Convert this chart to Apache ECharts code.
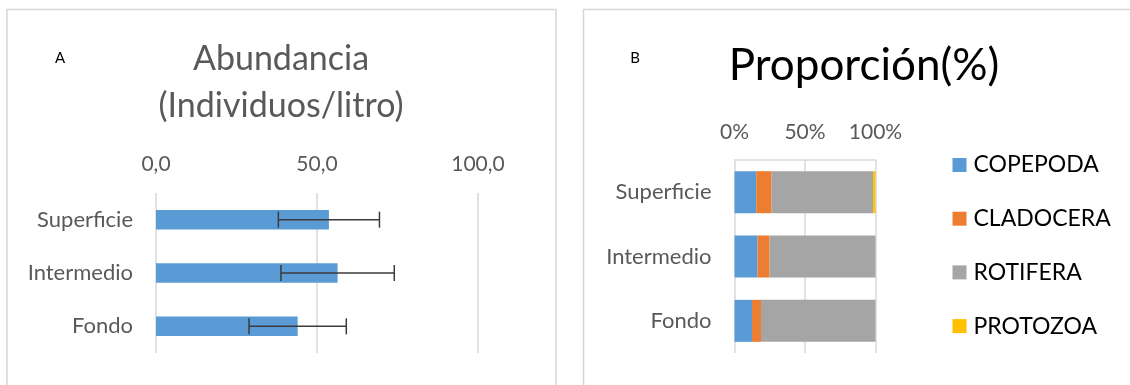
<!DOCTYPE html>
<html>
<head>
<meta charset="utf-8">
<script src="https://cdn.jsdelivr.net/npm/echarts@6/dist/echarts.min.js"></script>
<style>
  html, body { margin: 0; padding: 0; background: #fff; }
  #chart { width: 1130px; height: 385px; }
</style>
</head>
<body>
<div id="chart"></div>
<script>
// Depth strata sampled
const depths = ['Superficie', 'Intermedio', 'Fondo'];

// Panel A: mean abundance (individuals per litre) and its error
const abundance = [53.7, 56.4, 44.0];
const abundanceError = [15.7, 17.6, 15.1];
const abundanceTicks = [0, 50, 100];

// Panel B: share of each zooplankton group (%)
const groupNames = ['COPEPODA', 'CLADOCERA', 'ROTIFERA', 'PROTOZOA'];
const copepoda = [15.4, 16.4, 12.4];
const cladocera = [10.9, 8.5, 6.4];
const rotifera = [72.0, 75.1, 81.2];
const protozoa = [1.7, 0, 0];
const percentTicks = [0, 50, 100];

const groupValues = [copepoda, cladocera, rotifera, protozoa];
const groupColors = ['#5B9BD5', '#ED7D31', '#A5A5A5', '#FFC000'];

const FONT = 'Lato, "Open Sans", sans-serif';
const GRAY = '#595959';
const GRID_LINE = '#D9D9D9';

const chart = echarts.init(document.getElementById('chart'), null, { renderer: 'canvas' });

const errorData = depths.map((d, i) => [i, abundance[i] - abundanceError[i], abundance[i] + abundanceError[i]]);

const stackSeries = groupNames.map((name, k) => ({
  name: name,
  type: 'bar',
  stack: 'share',
  xAxisIndex: 1,
  yAxisIndex: 1,
  barWidth: 42,
  itemStyle: { color: groupColors[k] },
  data: groupValues[k]
}));

const option = {
  animation: false,
  textStyle: { fontFamily: FONT },
  graphic: [
    { type: 'rect', shape: { x: 7, y: 9.5, width: 549, height: 420 }, style: { fill: 'none', stroke: '#D6D6D6', lineWidth: 1.5 } },
    { type: 'rect', shape: { x: 583.5, y: 9.5, width: 620, height: 420 }, style: { fill: 'none', stroke: '#D6D6D6', lineWidth: 1.5 } },
    { type: 'text', x: 60, y: 58, style: { text: 'A', font: '15px ' + FONT, fill: '#000', textAlign: 'center', textVerticalAlign: 'middle' } },
    { type: 'text', x: 281, y: 59, style: { text: 'Abundancia', font: '34px ' + FONT, fill: GRAY, textAlign: 'center', textVerticalAlign: 'middle' } },
    { type: 'text', x: 281, y: 106, style: { text: '(Individuos/litro)', font: '34px ' + FONT, fill: GRAY, textAlign: 'center', textVerticalAlign: 'middle' } },
    { type: 'text', x: 635, y: 58, style: { text: 'B', font: '15px ' + FONT, fill: '#000', textAlign: 'center', textVerticalAlign: 'middle' } },
    { type: 'text', x: 864, y: 66, style: { text: 'Proporción(%)', font: '44px ' + FONT, fill: '#000', textAlign: 'center', textVerticalAlign: 'middle' } }
  ],
  legend: {
    data: groupNames,
    orient: 'vertical',
    left: 952.5,
    top: 153,
    padding: 0,
    itemWidth: 14,
    itemHeight: 14,
    itemGap: 29.7,
    icon: 'rect',
    textStyle: { fontFamily: FONT, fontSize: 23, color: '#000', lineHeight: 24, padding: [0, 0, 0, 2] }
  },
  grid: [
    { left: 156, top: 193, width: 322, height: 160 },
    { left: 734.5, top: 160, width: 141, height: 193 }
  ],
  xAxis: [
    {
      gridIndex: 0, type: 'value', position: 'top', min: 0, max: 100, interval: 50,
      axisLine: { show: false }, axisTick: { show: false },
      splitLine: { show: true, lineStyle: { color: GRID_LINE, width: 1.5 } },
      axisLabel: {
        color: GRAY, fontSize: 21, fontFamily: FONT, margin: 18,
        formatter: v => abundanceTicks.includes(v) ? v.toFixed(1).replace('.', ',') : ''
      }
    },
    {
      gridIndex: 1, type: 'value', position: 'top', min: 0, max: 100, interval: 50,
      axisLine: { show: true, lineStyle: { color: GRID_LINE, width: 1.5 } }, axisTick: { show: false },
      splitLine: { show: true, lineStyle: { color: GRID_LINE, width: 1.5 } },
      axisLabel: {
        color: GRAY, fontSize: 21, fontFamily: FONT, margin: 17,
        formatter: v => percentTicks.includes(v) ? v + '%' : ''
      }
    }
  ],
  yAxis: [
    {
      gridIndex: 0, type: 'category', data: depths, inverse: true,
      axisLine: { show: false }, axisTick: { show: false },
      axisLabel: { color: GRAY, fontSize: 22, fontFamily: FONT, margin: 23 }
    },
    {
      gridIndex: 1, type: 'category', data: depths, inverse: true,
      axisLine: { show: false }, axisTick: { show: false },
      axisLabel: { color: GRAY, fontSize: 22, fontFamily: FONT, margin: 23 }
    }
  ],
  series: [
    {
      name: 'Abundancia',
      type: 'bar',
      xAxisIndex: 0,
      yAxisIndex: 0,
      barWidth: 19.5,
      itemStyle: { color: '#5B9BD5' },
      data: abundance
    },
    {
      name: 'Error',
      type: 'custom',
      xAxisIndex: 0,
      yAxisIndex: 0,
      encode: { x: [1, 2], y: 0 },
      data: errorData,
      z: 10,
      renderItem: function (params, api) {
        const cat = api.value(0);
        const lo = api.coord([api.value(1), cat]);
        const hi = api.coord([api.value(2), cat]);
        const h = 8;
        const st = { stroke: '#3A3A3A', lineWidth: 1.5, fill: null };
        return {
          type: 'group',
          children: [
            { type: 'line', shape: { x1: lo[0], y1: lo[1], x2: hi[0], y2: hi[1] }, style: st },
            { type: 'line', shape: { x1: lo[0], y1: lo[1] - h, x2: lo[0], y2: lo[1] + h }, style: st },
            { type: 'line', shape: { x1: hi[0], y1: hi[1] - h, x2: hi[0], y2: hi[1] + h }, style: st }
          ]
        };
      }
    }
  ].concat(stackSeries)
};

chart.setOption(option);
</script>
</body>
</html>
